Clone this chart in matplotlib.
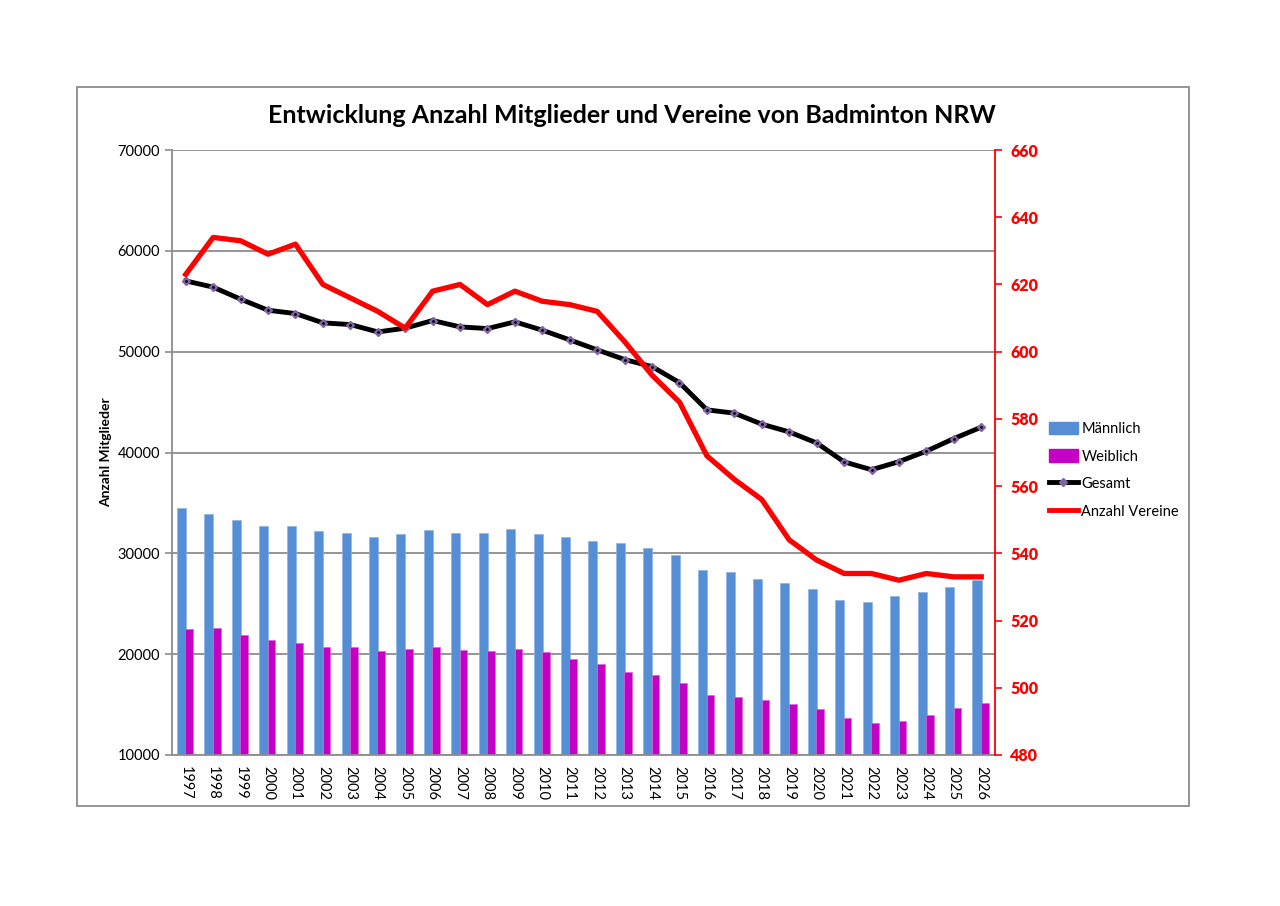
import matplotlib
matplotlib.use("Agg")
import matplotlib.pyplot as plt
import numpy as np
from matplotlib.lines import Line2D
from matplotlib.patches import Patch, Rectangle

plt.rcParams['font.family'] = ['Lato', 'DejaVu Sans']

years = [str(y) for y in range(1997, 2027)]
maennlich = [34530, 33880, 33310, 32750, 32690, 32250, 32020, 31630, 31890, 32350,
             32020, 31990, 32420, 31920, 31630, 31200, 31060, 30570, 29810, 28380,
             28120, 27460, 27090, 26440, 25410, 25150, 25740, 26170, 26630, 27360]
weiblich = [22530, 22600, 21870, 21440, 21110, 20680, 20710, 20350, 20520, 20740,
            20450, 20320, 20520, 20250, 19520, 19030, 18230, 17970, 17170, 15920,
            15790, 15420, 15030, 14530, 13670, 13170, 13370, 14000, 14690, 15160]
gesamt = [57020, 56400, 55210, 54110, 53780, 52860, 52690, 51960, 52330, 53090,
          52460, 52290, 52960, 52130, 51170, 50180, 49220, 48520, 46930, 44230,
          43900, 42810, 42040, 40950, 39070, 38290, 39090, 40130, 41380, 42510]
vereine = [623, 634, 633, 629, 632, 620, 616, 612, 607, 618,
           620, 614, 618, 615, 614, 612, 603, 593, 585, 569,
           562, 556, 544, 538, 534, 534, 532, 534, 533, 533]
left_ticks = [10000, 20000, 30000, 40000, 50000, 60000, 70000]
right_ticks = [480, 500, 520, 540, 560, 580, 600, 620, 640, 660]

c_blue = '#558ED5'
c_mag = '#C400C4'
c_red = '#FF0000'
c_grid = '#8C8C8C'

fig = plt.figure(figsize=(12.8, 9.06), dpi=100)
fig.patches.append(Rectangle((0.0602, 0.1104), 0.9289 - 0.0602, 0.904 - 0.1104,
                             transform=fig.transFigure, fill=False,
                             edgecolor='#8C8C8C', linewidth=1.3))

ax = fig.add_axes([0.1344, 0.1667, 0.7773 - 0.1344, 0.8344 - 0.1667])
x = np.arange(len(years))
ax.bar(x - 0.155, [m - 10000 for m in maennlich], bottom=10000, width=0.33,
       color=c_blue, edgecolor='#8DB4E2', linewidth=0.5, zorder=2)
ax.bar(x + 0.13, [w - 10000 for w in weiblich], bottom=10000, width=0.28,
       color=c_mag, edgecolor='#D966D9', linewidth=0.5, zorder=2)
ax.plot(x, gesamt, color='black', linewidth=3.5, zorder=4,
        marker='D', markersize=4.5, markerfacecolor='#8064A2',
        markeredgecolor='#8064A2')
ax.plot(x, gesamt, linestyle='none', marker='.', markersize=2, color='black', zorder=5)

ax.set_xlim(-0.5, len(years) - 0.5)
ax.set_ylim(left_ticks[0], left_ticks[-1])
ax.set_yticks(left_ticks)
ax.set_xticks(x)
ax.set_xticklabels(years, rotation=-90, fontsize=10.5)
ax.tick_params(axis='x', length=0, pad=8)
ax.tick_params(axis='y', labelsize=10.5, color=c_grid, length=5, width=1.2)
ax.grid(axis='y', color=c_grid, linewidth=1.3)
ax.set_axisbelow(True)
for s in ['top', 'right']:
    ax.spines[s].set_visible(False)
ax.spines['left'].set_color(c_grid)
ax.spines['left'].set_linewidth(1.3)
ax.spines['bottom'].set_color(c_grid)
ax.spines['bottom'].set_linewidth(1.3)
ax.set_ylabel('Anzahl Mitglieder', fontsize=10, fontweight='bold', labelpad=4)

ax2 = ax.twinx()
ax2.plot(x, vereine, color=c_red, linewidth=3.8, zorder=3)
ax2.set_ylim(right_ticks[0], right_ticks[-1])
ax2.set_yticks(right_ticks)
ax2.set_yticklabels([str(t) for t in right_ticks], fontweight='heavy', fontsize=11.5,
                    color=c_red)
ax2.tick_params(axis='y', colors=c_red, length=5, width=1.2, pad=6)
for s in ['top', 'left', 'bottom']:
    ax2.spines[s].set_visible(False)
ax2.spines['right'].set_color(c_red)
ax2.spines['right'].set_linewidth(1.3)

fig.text(0.494, 0.873, 'Entwicklung Anzahl Mitglieder und Vereine von Badminton NRW',
         ha='center', va='center', fontsize=18, fontweight='bold')

handles = [Patch(facecolor=c_blue, edgecolor=c_blue),
           Patch(facecolor=c_mag, edgecolor=c_mag),
           Line2D([], [], color='black', linewidth=3.5, marker='D', markersize=4.5,
                  markerfacecolor='#8064A2', markeredgecolor='#8064A2'),
           Line2D([], [], color=c_red, linewidth=3.5)]
labels = ['Männlich', 'Weiblich', 'Gesamt', 'Anzahl Vereine']
fig.legend(handles, labels, loc='center left', bbox_to_anchor=(0.809, 0.481),
           frameon=False, fontsize=10.5, labelspacing=0.92, handlelength=2.0,
           handleheight=0.9, handletextpad=0.25)

fig.savefig('out.png', dpi=100)
